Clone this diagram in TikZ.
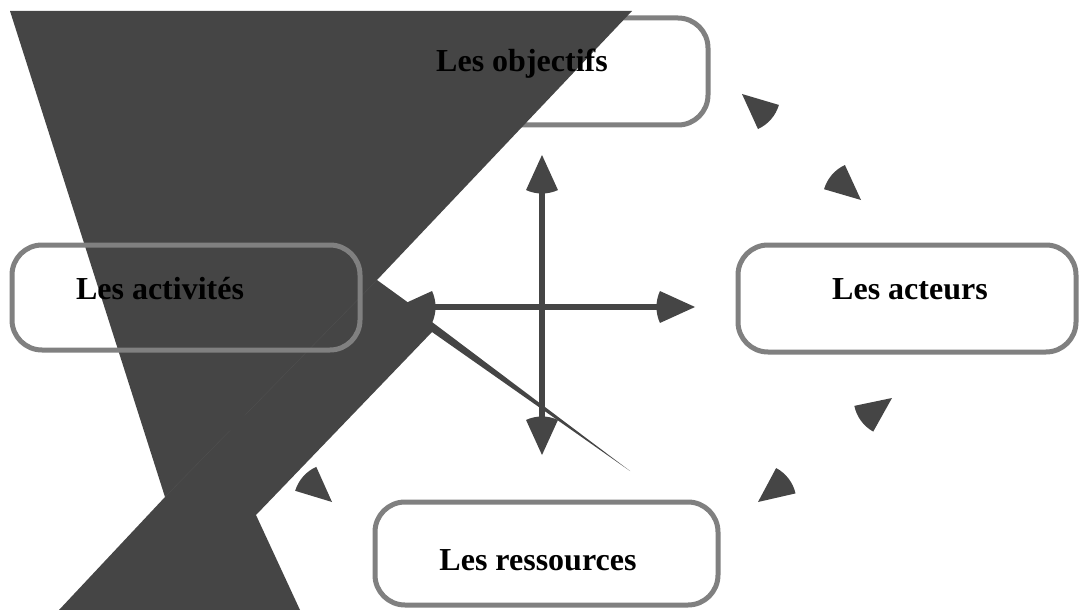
\documentclass[tikz,border=0pt]{standalone}
\usepackage{fontspec}
\setmainfont{Liberation Serif}
\usetikzlibrary{arrows.meta}

\definecolor{ink}{HTML}{454545}
\definecolor{frame}{HTML}{808080}
\definecolor{seam}{HTML}{4F4F4F}

% Fan-shaped arrow tip: a circular sector whose centre is the tip
\pgfdeclarearrow{
  name = Fan,
  parameters = {\the\pgfarrowlength},
  setup code = {
    \pgfarrowssettipend{0pt}
    \pgfarrowssetlineend{-0.5\pgfarrowlength}
    \pgfarrowssetbackend{-\pgfarrowlength}
    \pgfarrowshullpoint{0pt}{0pt}
    \pgfarrowsupperhullpoint{-\pgfarrowlength}{0.45\pgfarrowlength}
    \pgfarrowssavethe\pgfarrowlength
  },
  drawing code = {
    \pgfpathmoveto{\pgfpointorigin}
    \pgfpathlineto{\pgfpointpolar{155.5}{\pgfarrowlength}}
    \pgfpatharc{155.5}{204.5}{\pgfarrowlength}
    \pgfpathclose
    \pgfusepathqfill
  },
  defaults = {length = 28.9pt}
}

% lone fan head: tip coordinate, pointing direction
\newcommand\fanhead[2]{%
  \fill[ink] (#1) -- ++({#2+155.5}:38.5)
    arc[start angle={#2+155.5}, delta angle=49, radius=38.5] -- cycle;}

\begin{document}
\begin{tikzpicture}[x=0.75pt,y=-0.75pt,
  box/.style={draw=frame, line width=3.75pt, rounded corners=22.5pt,
              inner sep=0pt, minimum width=#1*0.75pt},
  box/.default=346,
  boxtext/.style={font=\bfseries\fontsize{24}{28}\selectfont,
                  anchor=base, inner sep=0pt},
  link/.style={color=ink, line width=5pt, Fan-Fan},
]
\useasboundingbox (0,0) rectangle (1079,610);

% goal box, partly covered by the dark block
\node[box=346, minimum height=107*0.75pt] (obj) at (535,71.5) {};

% dark block
\fill[ink] (10,11) -- (632,11) -- (377,280) -- (406,301) -- (432,322)
  -- (630,471) -- (432,332) -- (256,515) -- (300,610) -- (59,610)
  -- (165,497) -- cycle;
\draw[seam, line width=0.3pt] (377,280) -- (165,497);

% remaining boxes
\node[box=348, minimum height=105*0.75pt] (act) at (186,297.5) {};
\node[box=338, minimum height=107*0.75pt] (acteurs) at (907,298.5) {};
\node[box=343, minimum height=103*0.75pt] (res) at (546.5,553.5) {};

% box texts
\node[boxtext] (tobj) at (522,72) {Les objectifs};
\node[boxtext] (tact) at (160,299) {Les activités};
\node[boxtext] (tacteurs) at (910,299) {Les acteurs};
\node[boxtext] (tres) at (538,570) {Les ressources};

% central cross of double arrows
\coordinate (hl) at (397,307);
\coordinate (hr) at (695,307);
\coordinate (vt) at (542,155);
\coordinate (vb) at (542,455);
\draw[link] (hl) -- (hr);
\draw[link] (vt) -- (vb);

% fan heads around the cycle
\coordinate (oa1) at (742,94);
\coordinate (oa2) at (861,200);
\coordinate (ar1) at (892,398);
\coordinate (ar2) at (758,502);
\coordinate (ra1) at (332,502);
\coordinate (ra2) at (211,397);
\fanhead{oa1}{221}
\fanhead{oa2}{40.8}
\fanhead{ar1}{-36.3}
\fanhead{ar2}{142.6}
\fanhead{ra1}{41.4}
\fanhead{ra2}{221.4}
\end{tikzpicture}
\end{document}
